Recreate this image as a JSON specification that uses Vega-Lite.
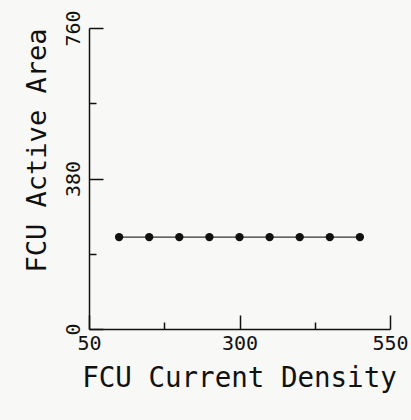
{
  "$schema": "https://vega.github.io/schema/vega-lite/v6.json",
  "autosize": "none",
  "padding": {"left": 89, "top": 28, "right": 21, "bottom": 91},
  "width": 301,
  "height": 301,
  "background": "#f8f8f6",
  "config": {
    "view": {"stroke": null},
    "font": "DejaVu Sans Mono",
    "axis": {"grid": false, "domainColor": "#111", "domainWidth": 1.5, "tickColor": "#111", "tickWidth": 1.5, "labelColor": "#111", "titleColor": "#111", "titleFontWeight": "normal", "labelFont": "DejaVu Sans Mono", "titleFont": "DejaVu Sans Mono"}
  },
  "data": {
    "values": [
      {"density": 100, "area": 232},
      {"density": 150, "area": 232},
      {"density": 200, "area": 232},
      {"density": 250, "area": 232},
      {"density": 300, "area": 232},
      {"density": 350, "area": 232},
      {"density": 400, "area": 232},
      {"density": 450, "area": 232},
      {"density": 500, "area": 232}
    ]
  },
  "encoding": {
    "x": {
      "field": "density", "type": "quantitative",
      "scale": {"domain": [50, 550], "nice": false, "zero": false},
      "axis": {
        "title": "FCU Current Density",
        "values": [50, 175, 300, 425, 550],
        "labelExpr": "datum.value == 175 || datum.value == 425 ? '' : datum.label",
        "labelFontSize": 20, "labelPadding": 18,
        "tickSize": {"condition": {"test": "datum.value == 175 || datum.value == 425", "value": -7}, "value": -14},
        "labelFlush": false,
        "titleFontSize": 27.5, "titleX": 150, "titleY": 49, "titleBaseline": "middle", "titleAlign": "center"
      }
    },
    "y": {
      "field": "area", "type": "quantitative",
      "scale": {"domain": [0, 760], "nice": false},
      "axis": {
        "title": "FCU Active Area",
        "values": [0, 190, 380, 570, 760],
        "labelExpr": "datum.value == 190 || datum.value == 570 ? '' : datum.label",
        "labelAngle": 270, "labelFontSize": 20, "labelPadding": 20,
        "tickSize": {"condition": {"test": "datum.value == 190 || datum.value == 570", "value": -7}, "value": -14},
        "labelFlush": false, "labelAlign": "center", "labelBaseline": "bottom",
        "titleFontSize": 27, "titleX": -52, "titleY": 122, "titleBaseline": "middle", "titleAlign": "center", "titleAngle": 270
      }
    }
  },
  "layer": [
    {"mark": {"type": "line", "color": "#333", "strokeWidth": 1.2}},
    {"mark": {"type": "point", "filled": true, "color": "#111", "size": 70, "opacity": 1}}
  ]
}
